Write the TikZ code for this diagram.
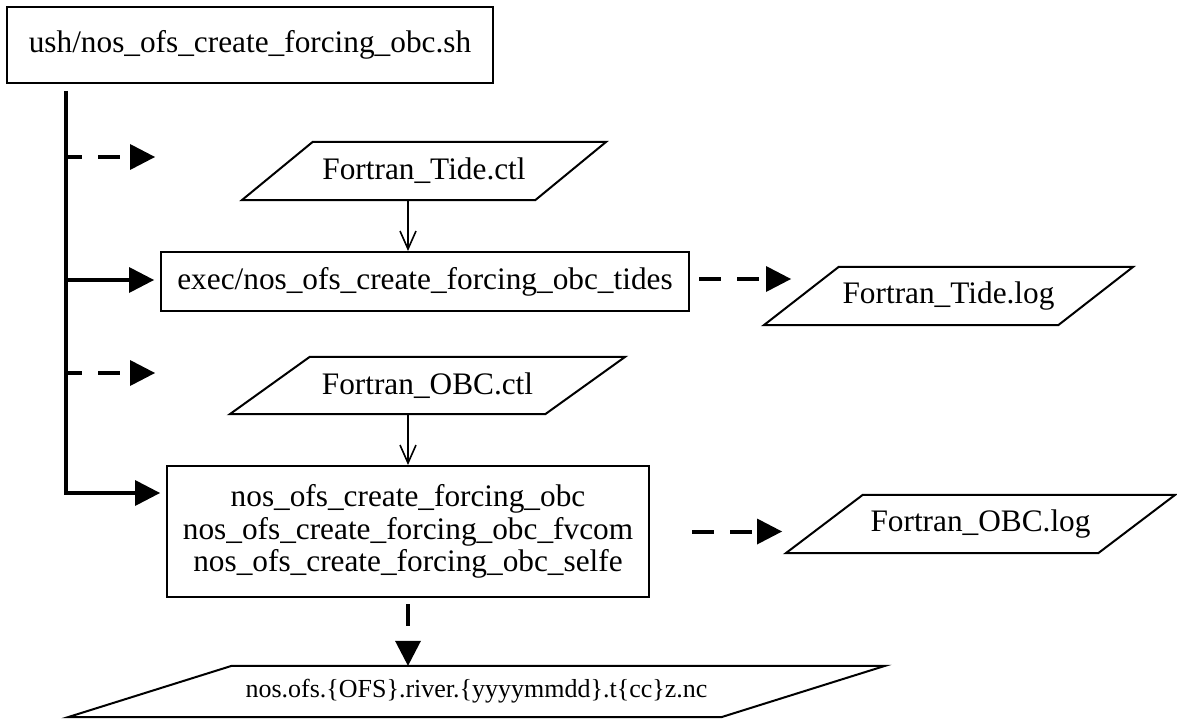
\documentclass[tikz,border=0pt]{standalone}
\usepackage{fontspec}
\setmainfont{Liberation Serif}
\usetikzlibrary{arrows.meta,calc}

\newcommand{\mainsize}{\fontsize{31.3pt}{32.5pt}\selectfont}
\newcommand{\outsize}{\fontsize{26pt}{28pt}\selectfont}
% outline of an input/output parallelogram around an undrawn node
\newcommand{\iobox}[2]{%
  \draw[shapeline] (#1.south west) -- ([xshift=-#2]#1.south east)
    -- (#1.north east) -- ([xshift=#2]#1.north west) -- cycle;}

\begin{document}
\begin{tikzpicture}[x=1pt,y=-1pt,
  box/.style={draw, line width=2pt, inner sep=0pt, align=center, font=\mainsize},
  io/.style={inner sep=0pt, font=\mainsize},
  shapeline/.style={line width=2pt, line join=miter},
  trunk/.style={line width=4pt},
  solidarrow/.style={line width=4pt, -{Triangle[length=25pt,width=26pt,line width=0pt]}},
  dasharrow/.style={line width=4pt, dash pattern=on 22pt off 16pt,
    -{Triangle[length=25pt,width=26pt,line width=0pt]}},
  thinarrow/.style={line width=1.6pt, -{Straight Barb[length=18pt,width=16pt]}},
]
\useasboundingbox (0,0) rectangle (1177,719);

% script and programs
\node[box, minimum width=486pt, minimum height=76pt] (sh) at (250,45)
  {ush/nos\_ofs\_create\_forcing\_obc.sh};
\node[box, minimum width=528pt, minimum height=59pt] (exec) at (425,281.5)
  {exec/nos\_ofs\_create\_forcing\_obc\_tides};
\node[box, minimum width=482pt, minimum height=131pt] (bigbox) at (408,531.5)
  {nos\_ofs\_create\_forcing\_obc\\nos\_ofs\_create\_forcing\_obc\_fvcom\\nos\_ofs\_create\_forcing\_obc\_selfe};

% control, log and output files
\node[io, minimum width=364pt, minimum height=58pt] (tidectl) at (424,171) {Fortran\_Tide.ctl};
\iobox{tidectl}{71pt}
\node[io, minimum width=369pt, minimum height=58pt] (tidelog) at (948.5,296) {Fortran\_Tide.log};
\iobox{tidelog}{75pt}
\node[io, minimum width=395pt, minimum height=57pt] (obcctl) at (427.5,385.5) {Fortran\_OBC.ctl};
\iobox{obcctl}{80pt}
\node[io, minimum width=389pt, minimum height=58pt] (obclog) at (980.5,524) {Fortran\_OBC.log};
\iobox{obclog}{77pt}
\node[io, font=\outsize, minimum width=817pt, minimum height=51pt] (ncfile) at (476.5,691.5)
  {nos.ofs.\{OFS\}.river.\{yyyymmdd\}.t\{cc\}z.nc};
\iobox{ncfile}{164pt}

% trunk leaving the script
\coordinate (trunktop) at (66,91);
\coordinate (trunkbot) at (66,495);
\draw[trunk] (trunktop) -- (trunkbot);

\coordinate (b1) at (66,157);  \coordinate (b1e) at (155,157);
\coordinate (b2) at (66,280);
\coordinate (b3) at (66,373);  \coordinate (b3e) at (155,373);
\coordinate (b4) at (66,493);

\draw[dasharrow, dash phase=6pt] (b1) -- (b1e);
\draw[solidarrow, shorten >=6pt] (b2) -- (b2 -| exec.west);
\draw[dasharrow, dash phase=6pt] (b3) -- (b3e);
\draw[solidarrow, shorten >=6pt] (b4) -- (b4 -| bigbox.west);

% inputs into the programs
\draw[thinarrow] (tidectl.south -| bigbox.north) -- (exec.north -| bigbox.north);
\draw[thinarrow] (obcctl.south -| bigbox.north) -- (bigbox.north);

% logs and output
\coordinate (l1s) at ($(exec.east)+(9,-2.5)$);
\coordinate (l1e) at (791,279);
\draw[dasharrow] (l1s) -- (l1e);
\coordinate (l2s) at ($(bigbox.east)+(42,0)$);
\coordinate (l2e) at (782,531.5);
\draw[dasharrow] (l2s) -- (l2e);
\draw[dasharrow, shorten <=6pt] (bigbox.south) -- (bigbox.south |- ncfile.north);
\end{tikzpicture}
\end{document}
